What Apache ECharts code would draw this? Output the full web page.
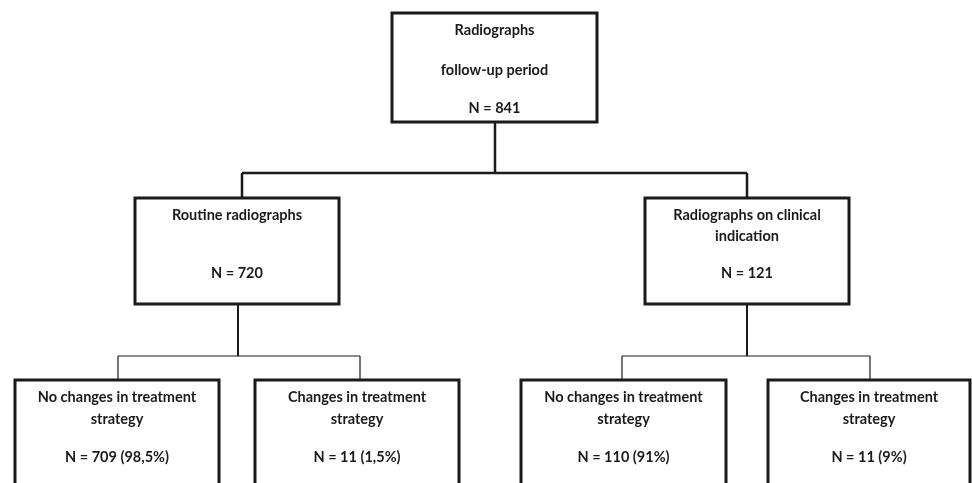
<!DOCTYPE html>
<html>
<head>
<meta charset="utf-8">
<script src="https://cdn.jsdelivr.net/npm/echarts@6/dist/echarts.min.js"></script>
<style>
  html, body { margin: 0; padding: 0; background: #fff; }
  #chart { width: 972px; height: 483px; }
</style>
</head>
<body>
<div id="chart"></div>
<script>
// flowchart content
const titles = [
  ['Radiographs', 'follow-up period'],
  ['Routine radiographs'],
  ['Radiographs on clinical', 'indication'],
  ['No changes in treatment', 'strategy'],
  ['Changes in treatment', 'strategy'],
  ['No changes in treatment', 'strategy'],
  ['Changes in treatment', 'strategy']
]
const counts = [841, 720, 121, 709, 11, 110, 11]
const shares = ['', '', '', '98,5%', '1,5%', '91%', '9%']

// layout in page units (x0, y0, x1, y1) and text rows
const boxLayout = [
  { rect: [392, 13, 597, 122], rows: [30, 70, 108] },
  { rect: [135, 198, 339, 304], rows: [215, 273] },
  { rect: [645, 198, 849, 304], rows: [215, 236, 273] },
  { rect: [15, 380, 219, 520], rows: [397, 419, 457] },
  { rect: [255, 380, 459, 520], rows: [397, 419, 457] },
  { rect: [521, 380, 726, 520], rows: [397, 419, 457] },
  { rect: [768, 380, 970, 520], rows: [397, 419, 457] }
]
// connector routing per parent: stem x, bar y, drop x per child, line widths
const groupLayout = {
  0: { stemX: 495, barY: 173, drops: { 1: 242, 2: 747 }, stemW: 2.5, barW: 2.5, dropW: 2.5 },
  1: { stemX: 238, barY: 356, drops: { 3: 118, 4: 360 }, stemW: 2, barW: 1.2, dropW: 1.2 },
  2: { stemX: 747, barY: 356, drops: { 5: 622, 6: 870 }, stemW: 2, barW: 1.2, dropW: 1.2 }
}

const boxData = titles.map((t, i) => {
  const n = 'N = ' + counts[i] + (shares[i] ? ' (' + shares[i] + ')' : '')
  return { value: [i], lines: t.concat([n]) }
})

const edgeData = []
Object.keys(groupLayout).forEach(p => {
  const g = groupLayout[p]
  const pr = boxLayout[p].rect
  const kids = Object.keys(g.drops).map(Number)
  const xs = kids.map(k => g.drops[k])
  edgeData.push({ value: [0], pts: [[g.stemX, pr[3]], [g.stemX, g.barY]], w: g.stemW })
  edgeData.push({ value: [0], pts: [[Math.min(...xs), g.barY], [Math.max(...xs), g.barY]], w: g.barW })
  kids.forEach(k => {
    edgeData.push({ value: [0], pts: [[g.drops[k], g.barY], [g.drops[k], boxLayout[k].rect[1]]], w: g.dropW })
  })
})

const chart = echarts.init(document.getElementById('chart'))

chart.setOption({
  backgroundColor: '#fff',
  animation: false,
  grid: { left: 0, right: 0, top: 0, bottom: 0 },
  xAxis: { type: 'value', min: 0, max: 972, show: false },
  yAxis: { type: 'value', min: 0, max: 483, inverse: true, show: false },
  series: [
    {
      type: 'custom',
      data: edgeData,
      renderItem: (params, api) => {
        const e = edgeData[params.dataIndex]
        return {
          type: 'polyline',
          shape: { points: e.pts.map(p => api.coord(p)) },
          style: { stroke: '#1a1a1a', lineWidth: e.w, fill: null }
        }
      }
    },
    {
      type: 'custom',
      data: boxData,
      renderItem: (params, api) => {
        const i = params.dataIndex
        const L = boxLayout[i]
        const a = api.coord([L.rect[0], L.rect[1]])
        const b = api.coord([L.rect[2], L.rect[3]])
        const cx = (a[0] + b[0]) / 2
        const children = [{
          type: 'rect',
          shape: { x: a[0], y: a[1], width: b[0] - a[0], height: b[1] - a[1] },
          style: { fill: '#fff', stroke: '#1a1a1a', lineWidth: 3 }
        }]
        boxData[i].lines.forEach((txt, j) => {
          const y = api.coord([0, L.rows[j]])[1]
          children.push({
            type: 'text',
            x: cx,
            y: y,
            style: {
              text: txt,
              align: 'center',
              verticalAlign: 'middle',
              font: 'bold 14.5px Lato',
              fill: '#1a1a1a'
            }
          })
        })
        return { type: 'group', children: children }
      }
    }
  ]
})
</script>
</body>
</html>
